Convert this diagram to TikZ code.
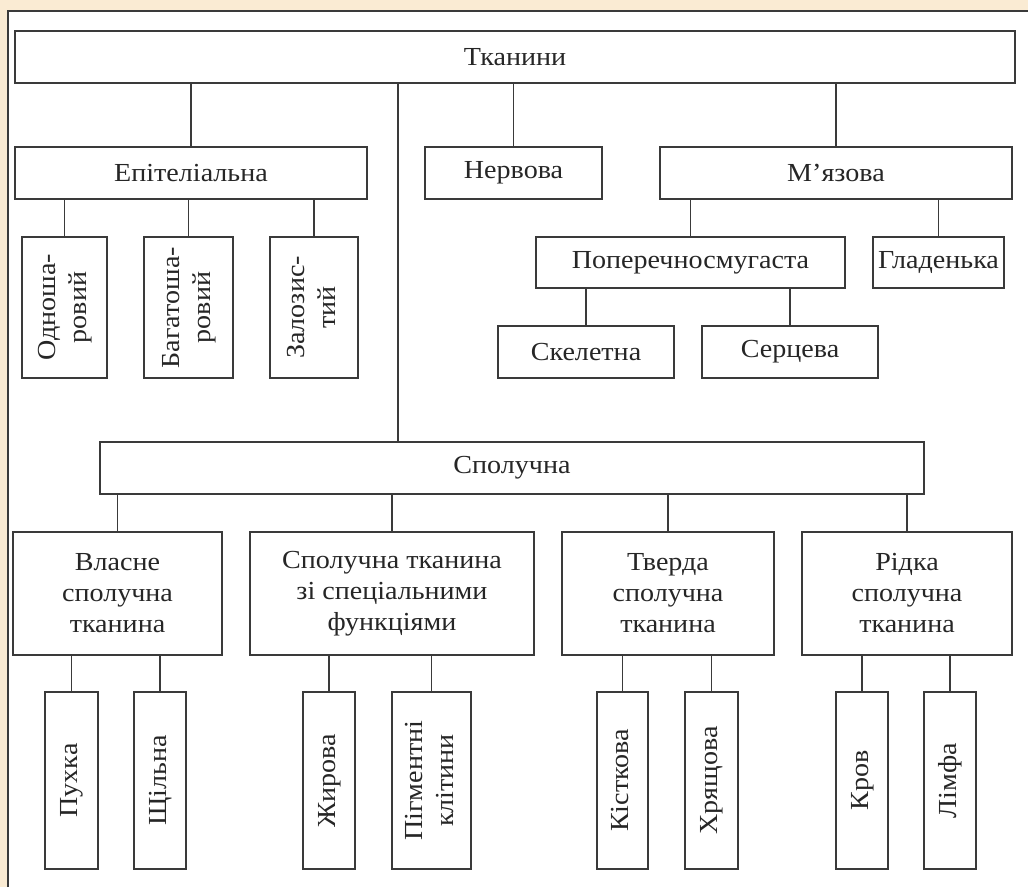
\documentclass[tikz,border=0pt]{standalone}
\usepackage{fontspec}
\setmainfont[FakeStretch=1.08]{Liberation Serif}
\definecolor{paper}{HTML}{FAEBD3}
\definecolor{ink}{HTML}{3A3A3A}
\newcommand{\vtext}[1]{\rotatebox{90}{\begin{tabular}{@{}c@{}}#1\end{tabular}}}
\begin{document}
\begin{tikzpicture}[x=1pt,y=-1pt,
  box/.style={draw=ink,line width=1.8pt,inner sep=0pt,align=center,
    text=black!85,font=\fontsize{26}{31}\selectfont},
  row/.style={box,minimum height=52pt},
  leaf/.style={box,minimum height=177pt},
  link/.style={draw=ink,line width=1.8pt}]
\useasboundingbox (0,0) rectangle (1028,887);
\fill[paper] (0,0) rectangle (1028,887);
\fill[white] (8,11) rectangle (1028,887);
\draw[ink,line width=2.5pt] (8,887) -- (8,11) -- (1028,11);

% top levels
\node[row,minimum width=1000pt] (tk) at (515,57) {Тканини};
\node[row,minimum width=352pt] (epi) at (191,173) {Епітеліальна};
\node[row,minimum width=177pt] (nerv) at (513.5,173) {Нервова};
\node[row,minimum width=352pt] (myaz) at (836,173) {М’язова};

\node[box,minimum width=85pt,minimum height=141pt] (odn) at (64.5,307.5) {\vtext{Одноша-\\ровий}};
\node[box,minimum width=89pt,minimum height=141pt] (bag) at (188.5,307.5) {\vtext{Багатоша-\\ровий}};
\node[box,minimum width=88pt,minimum height=141pt] (zal) at (314,307.5) {\vtext{Залозис-\\тий}};

\node[row,minimum width=309pt,minimum height=51pt] (pop) at (690.5,262.5) {Поперечносмугаста};
\node[row,minimum width=131pt,minimum height=51pt] (glad) at (938.5,262.5) {Гладенька};
\node[row,minimum width=176pt] (skel) at (586,352) {Скелетна};
\node[row,minimum width=176pt] (serc) at (790,352) {Серцева};

% connective tissue
\node[row,minimum width=824pt] (spol) at (512,468) {Сполучна};
\node[box,minimum width=209pt,minimum height=123pt] (vlas) at (117.5,593.5) {Власне\\сполучна\\тканина};
\node[box,minimum width=284pt,minimum height=123pt] (spec) at (392,593.5) {Сполучна тканина\\зі спеціальними\\функціями};
\node[box,minimum width=212pt,minimum height=123pt] (tverd) at (668,593.5) {Тверда\\сполучна\\тканина};
\node[box,minimum width=210pt,minimum height=123pt] (ridk) at (907,593.5) {Рідка\\сполучна\\тканина};

\node[leaf,minimum width=53pt] (puh) at (71.5,780.5) {\vtext{Пухка}};
\node[leaf,minimum width=52pt] (shch) at (160,780.5) {\vtext{Щільна}};
\node[leaf,minimum width=52pt] (zhyr) at (329,780.5) {\vtext{Жирова}};
\node[leaf,minimum width=79pt] (pigm) at (431.5,780.5) {\vtext{Пігментні\\клітини}};
\node[leaf,minimum width=51pt] (kist) at (622.5,780.5) {\vtext{Кісткова}};
\node[leaf,minimum width=53pt] (hrya) at (711.5,780.5) {\vtext{Хрящова}};
\node[leaf,minimum width=52pt] (krov) at (862,780.5) {\vtext{Кров}};
\node[leaf,minimum width=52pt] (limf) at (950,780.5) {\vtext{Лімфа}};

% connectors
\coordinate (trunk) at (398,0);
\draw[link] (tk.south -| trunk) -- (spol.north -| trunk);
\foreach \p/\c in {tk/epi,tk/nerv,tk/myaz,epi/odn,epi/bag,epi/zal,
  myaz/pop,myaz/glad,pop/skel,pop/serc,spol/vlas,spol/spec,spol/tverd,
  spol/ridk,vlas/puh,vlas/shch,spec/zhyr,spec/pigm,tverd/kist,
  tverd/hrya,ridk/krov,ridk/limf}
  \draw[link] (\c.north) -- (\c.north |- \p.south);
\end{tikzpicture}
\end{document}
